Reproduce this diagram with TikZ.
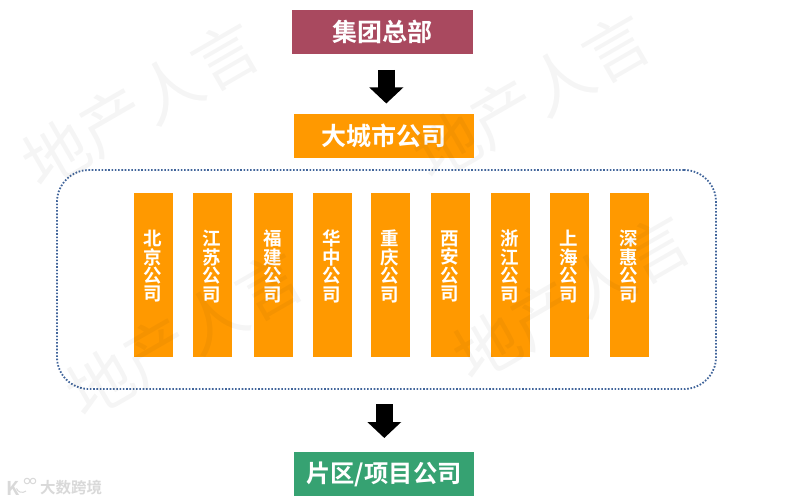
\documentclass[tikz,border=0pt]{standalone}
\usepackage{fontspec}
\setmainfont{Noto Sans CJK SC}[BoldFont={Noto Sans CJK SC Bold}]
\usetikzlibrary{arrows.meta}
\definecolor{orangebox}{HTML}{FF9900}
\definecolor{hqred}{HTML}{A9495F}
\definecolor{greenbox}{HTML}{36A272}
\definecolor{dotblue}{HTML}{41659B}
\tikzset{
  box/.style={fill=#1,draw=none,minimum height=44pt,text=white,font=\fontsize{25}{25}\selectfont\bfseries,inner sep=0pt},
  vbox/.style={fill=orangebox,draw=none,minimum width=39pt,minimum height=164pt,inner sep=0pt},
  vtext/.style={text=white,font=\fontsize{18.5}{18.4}\selectfont\bfseries,align=center,inner sep=0pt},
  blockarrow/.style={line width=17pt,black,-{Triangle[width=33pt,length=16pt]}},
  watermark/.style={text=black,text opacity=0.04,font=\fontsize{65}{65}\selectfont,rotate=30,inner sep=0pt},
  logo/.style={text=gray!30,inner sep=0pt,font=\fontsize{15.5}{15.5}\selectfont\bfseries},
  logoring/.style={draw=gray!30,line width=1pt}
}
\begin{document}
\begin{tikzpicture}[x=1pt,y=-1pt]
\useasboundingbox (0,0) rectangle (788,503);
\fill[white] (0,0) rectangle (788,503);
\node[box=hqred,minimum width=181pt] (hq) at (382.5,32) {集团总部};
\node[box=orangebox,minimum width=180pt] (city) at (384,136) {大城市公司};
\node[box=greenbox,minimum width=180pt,font=\fontsize{24.3}{25}\selectfont\bfseries] (area) at (384,474) {片区/项目公司};
\node[draw=dotblue,line width=1.8pt,dash pattern=on 1.6pt off 1.7pt,rounded corners=32pt,minimum width=659pt,minimum height=219pt,inner sep=0pt] (group) at (386.5,279.5) {};
\foreach \nm/\cx/\tx in {a/153.5/{北\\京\\公\\司},b/212.5/{江\\苏\\公\\司},c/273.5/{福\\建\\公\\司},d/332.5/{华\\中\\公\\司},e/390.5/{重\\庆\\公\\司},f/450.5/{西\\安\\公\\司},g/510.5/{浙\\江\\公\\司},h/569.5/{上\\海\\公\\司},i/629.5/{深\\惠\\公\\司}}{
  \node[vbox] (\nm) at (\cx,275) {};
  \node[vtext] (t\nm) at (\cx-1,266.5) {\tx};
}
\coordinate (a1s) at (386.3,70);
\coordinate (a1e) at (386.3,103.5);
\coordinate (a2s) at (384.3,404);
\coordinate (a2e) at (384.3,438);
\draw[blockarrow] (a1s) -- (a1e);
\draw[blockarrow] (a2s) -- (a2e);
\node[watermark] (w1) at (141,105) {地产人言};
\node[watermark] (w2) at (532,97) {地产人言};
\node[watermark] (w3) at (185,335) {地产人言};
\node[watermark] (w4) at (572,298) {地产人言};
\node[logo,font=\fontsize{19}{19}\selectfont\bfseries] (lgk) at (13,488) {K};
\draw[logoring] (26,491) arc[start angle=-50,end angle=-160,radius=6pt];
\node[logoring,circle,minimum size=5.5pt,inner sep=0pt] (lgc1) at (27,481) {};
\node[logoring,circle,minimum size=5.5pt,inner sep=0pt] (lgc2) at (33,481) {};
\node[logo] (lg) at (71,488) {大数跨境};
\end{tikzpicture}
\end{document}
